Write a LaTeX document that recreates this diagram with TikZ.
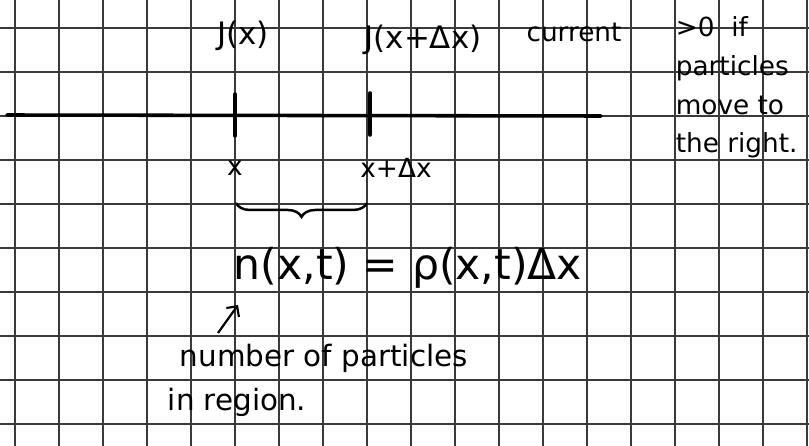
\documentclass[tikz,border=0pt]{standalone}
\usepackage{fontspec}
\setmainfont{DejaVu Sans}
\usepackage{tikz}
\usetikzlibrary{arrows.meta,positioning,decorations.pathreplacing}
\definecolor{gridgray}{HTML}{3A3A3A}
\definecolor{ink}{HTML}{000000}
\tikzset{
  gridline/.style={draw=gridgray,line width=0.8pt},
  axisline/.style={draw=ink,line width=2.3pt,line cap=round},
  handtxt/.style={text=ink,inner sep=1pt,font=\fontsize{17}{23}\selectfont},
  bigtxt/.style={text=ink,inner sep=1pt,font=\fontsize{27.5}{32}\selectfont}
}

\begin{document}
\begin{tikzpicture}[x=0.022727cm,y=-0.022727cm]
  \useasboundingbox[fill=white] (0,0) rectangle (809,446);
  % squared paper
  \foreach \gx in {15,59,...,807}
    \draw[gridline] (\gx,0) -- (\gx,446);
  \foreach \gy in {28,72,...,424}
    \draw[gridline] (0,\gy) -- (809,\gy);

  % the line with its two marks
  \coordinate (lft) at (7,115);
  \coordinate (rgt) at (601,116);
  \coordinate (xa) at (235,115);
  \coordinate (xb) at (370,115);
  \draw[axisline] (lft) -- (rgt);
  \draw[axisline] (xa) ++(0,-21) -- ++(0,42);
  \draw[axisline] (xb) ++(0,-22) -- ++(0,42);

  % currents above
  \node[handtxt,font=\fontsize{20}{23}\selectfont] (ja) at (243,36) {J(x)};
  \node[handtxt,font=\fontsize{20}{23}\selectfont] (jb) at (423,40) {J(x+Δx)};
  \node[handtxt] (cur) at (574,32) {current};
  \node[handtxt,align=left,anchor=north west,font=\fontsize{17}{25}\selectfont]
    (note) at (674,15) {>0\ \ if\\particles\\move to\\the right.};

  % positions below
  \node[handtxt] (pa) at (235,168) {x};
  \node[handtxt] (pb) at (396,168) {x+Δx};
  \draw[ink,line width=1.6pt,decorate,decoration={brace,mirror,amplitude=9pt}]
    (236,203) -- (367,203);

  % particle number
  \node[bigtxt,anchor=west] (nx) at (232,268) {n(x,t) = ρ(x,t)Δx};
  \node[handtxt,anchor=west,font=\fontsize{19}{23}\selectfont] (lab1) at (178,358) {number of particles};
  \node[handtxt,anchor=west,font=\fontsize{19}{23}\selectfont] (lab2) at (166,402) {in region.};
  \coordinate (tail) at (218,333);
  \coordinate (head) at (238,305);
  \draw[ink,line width=1.4pt,-{Straight Barb[length=5pt]}] (tail) -- (head);
\end{tikzpicture}
\end{document}
